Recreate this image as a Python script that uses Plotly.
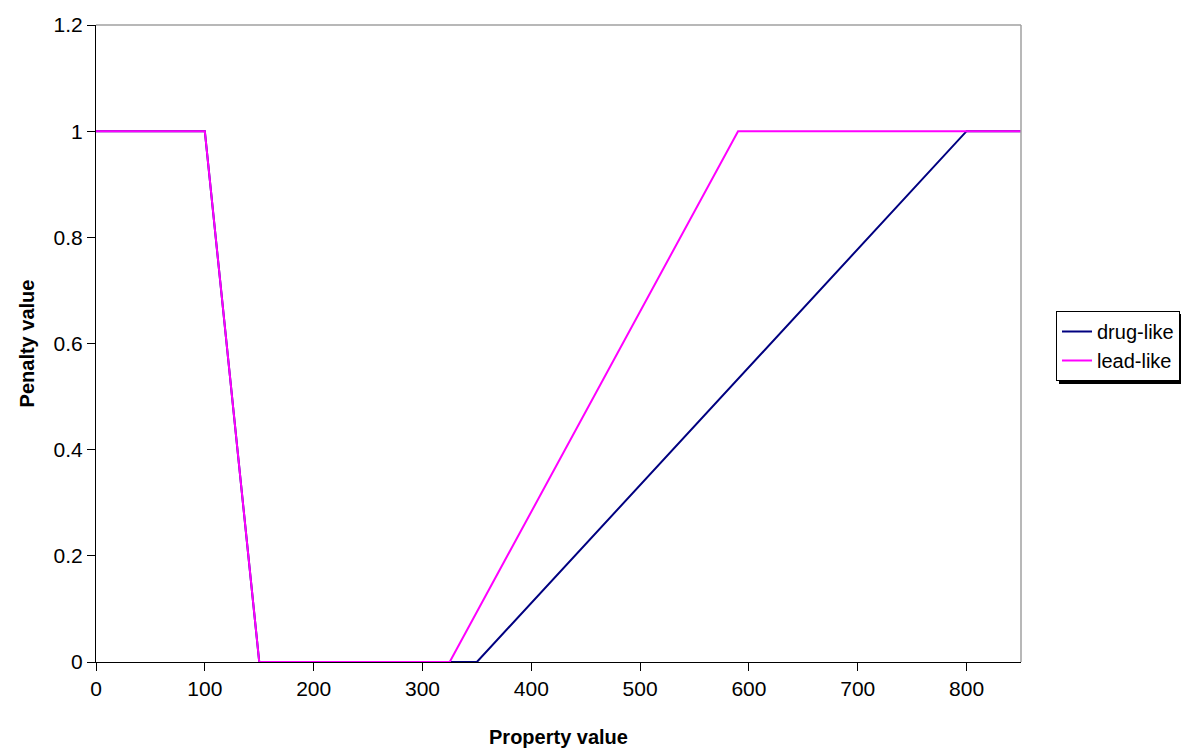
import plotly.graph_objects as go

# Data
drug_x = [0, 100, 150, 350, 800, 850]
drug_y = [1, 1, 0, 0, 1, 1]
lead_x = [0, 100, 150, 325, 590, 850]
lead_y = [1, 1, 0, 0, 1, 1]
x_ticks = [0, 100, 200, 300, 400, 500, 600, 700, 800]
y_ticks = [0, 0.2, 0.4, 0.6, 0.8, 1.0, 1.2]
y_labels = ["0", "0.2", "0.4", "0.6", "0.8", "1", "1.2"]

FONT = "Arial, Liberation Sans, sans-serif"

W, H = 1192, 751
ML, MR, MT, MB = 96, 171, 25, 89
PW, PH = W - ML - MR, H - MT - MB


def px2paper(px, py):
    return (px - ML) / PW, (H - MB - py) / PH


fig = go.Figure()
fig.add_trace(go.Scatter(x=drug_x, y=drug_y, mode="lines", name="drug-like",
                         line=dict(color="#000080", width=2)))
fig.add_trace(go.Scatter(x=lead_x, y=lead_y, mode="lines", name="lead-like",
                         line=dict(color="#FF00FF", width=2)))

lx, ly = px2paper(1056, 311)
sx0, sy0 = px2paper(1059, 314)
sx1, sy1 = px2paper(1181, 384)

fig.update_layout(
    width=W, height=H,
    margin=dict(l=ML, r=MR, t=MT, b=MB),
    paper_bgcolor="white", plot_bgcolor="white",
    font=dict(family=FONT, size=21, color="black"),
    showlegend=True,
    legend=dict(x=lx, y=ly, xanchor="left", yanchor="top",
                bgcolor="white", bordercolor="black", borderwidth=1,
                font=dict(family=FONT, size=20, color="black"),
                tracegroupgap=0, itemwidth=30),
    xaxis=dict(range=[0, 850], tickvals=x_ticks, showgrid=False, zeroline=False,
               showline=True, linecolor="black", linewidth=1,
               ticks="outside", ticklen=8, tickcolor="black",
               tickfont=dict(size=21), automargin=False,
               title=dict(text="<b>Property value</b>", font=dict(size=20), standoff=30)),
    yaxis=dict(range=[0, 1.2], tickvals=y_ticks, ticktext=y_labels,
               showgrid=False, zeroline=False,
               showline=True, linecolor="black", linewidth=1,
               ticks="outside", ticklen=8, tickcolor="black",
               tickfont=dict(size=21), automargin=False,
               title=dict(text="<b>Penalty value</b>", font=dict(size=20), standoff=13)),
    shapes=[
        dict(type="line", xref="paper", yref="paper", x0=0, x1=1, y0=1, y1=1,
             line=dict(color="#a0a0a0", width=1.5)),
        dict(type="line", xref="paper", yref="paper", x0=1, x1=1, y0=0, y1=1,
             line=dict(color="#a0a0a0", width=1.5)),
        dict(type="rect", xref="paper", yref="paper", x0=sx0, x1=sx1, y0=sy1, y1=sy0,
             fillcolor="black", line=dict(width=0), layer="above"),
    ],
)

fig.write_html("out.html")
